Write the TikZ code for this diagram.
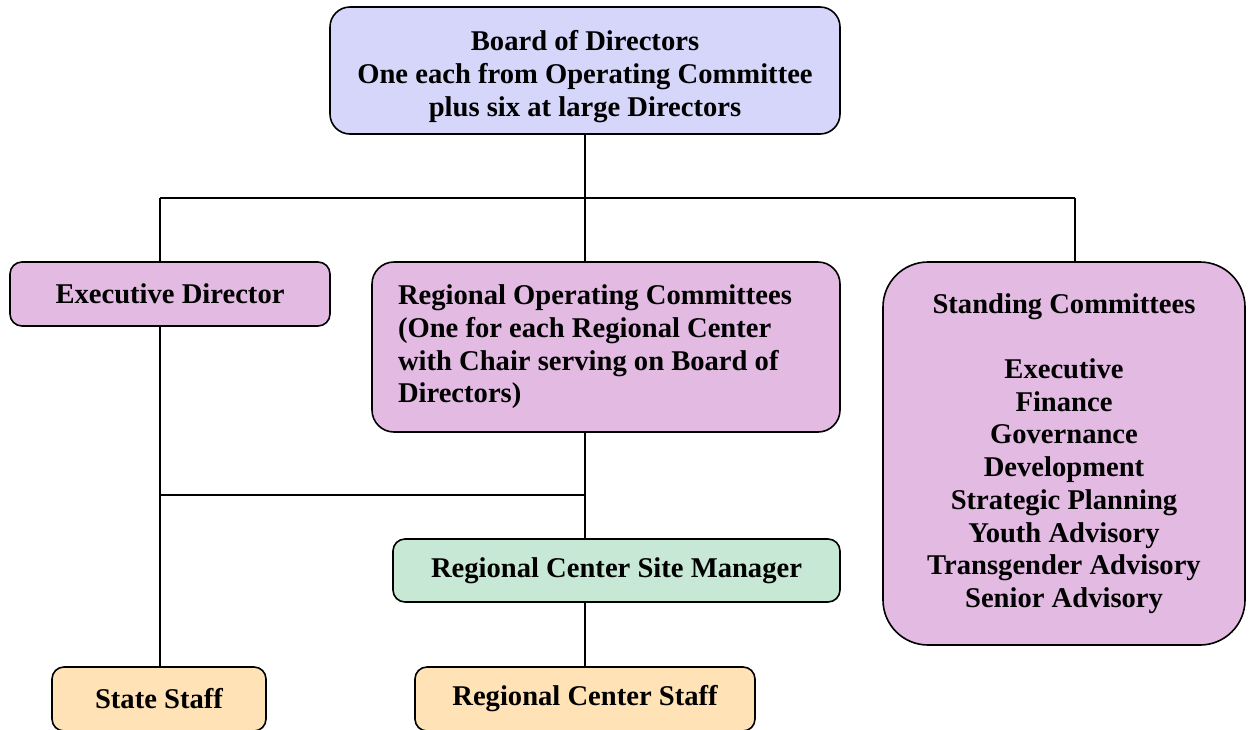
\documentclass[tikz,border=0pt]{standalone}
\usepackage{fontspec}
\setmainfont{Liberation Serif}
\definecolor{bluefill}{RGB}{214,214,250}
\definecolor{purplefill}{RGB}{226,186,226}
\definecolor{greenfill}{RGB}{200,232,214}
\definecolor{orangefill}{RGB}{255,226,182}
\tikzset{
  orgbox/.style={draw=black, line width=1.6pt, inner sep=0pt, align=center,
    font=\fontsize{28.6}{32.7}\selectfont\bfseries},
  conn/.style={draw=black, line width=1.5pt}
}
\begin{document}
\begin{tikzpicture}[x=1pt,y=-1pt]
\useasboundingbox (0,0) rectangle (1250,729);
\node[orgbox, fill=bluefill, rounded corners=20pt, minimum width=510pt, minimum height=127pt] (board) at (585,70.5)
  {\rule{0pt}{4pt}\\[-4pt]Board of Directors\\One each from Operating Committee\\plus six at large Directors};
\node[orgbox, fill=purplefill, rounded corners=12pt, minimum width=320pt, minimum height=64pt] (exec) at (170,294)
  {Executive Director};
\node[orgbox, fill=purplefill, rounded corners=22pt, minimum width=468pt, minimum height=170pt, align=flush left, text width=416pt] (roc) at (606,347)
  {Regional Operating Committees\\(One for each Regional Center\\with Chair serving on Board of\\Directors)};
\node[orgbox, fill=purplefill, rounded corners=45pt, minimum width=362pt, minimum height=383pt] (stand) at (1064,453.5)
  {Standing Committees\\[32.7pt]Executive\\Finance\\Governance\\Development\\Strategic Planning\\Youth Advisory\\Transgender Advisory\\Senior Advisory};
\node[orgbox, fill=greenfill, rounded corners=12pt, minimum width=447pt, minimum height=63pt] (site) at (616.5,570.5)
  {Regional Center Site Manager};
\node[orgbox, fill=orangefill, rounded corners=12pt, minimum width=214pt, minimum height=64pt] (state) at (159,699)
  {State Staff};
\node[orgbox, fill=orangefill, rounded corners=12pt, minimum width=340pt, minimum height=64pt] (rcs) at (585,699)
  {Regional Center Staff};
\coordinate (jm) at (585,198);
\coordinate (jl) at (160,198);
\coordinate (jr) at (1075,198);
\coordinate (jb) at (160,495);
\coordinate (jc) at (585,495);
\draw[conn] (board.south) -- (jm);
\draw[conn] (jl) -- (jr);
\draw[conn] (jl) -- (jl |- exec.north);
\draw[conn] (jm) -- (jm |- roc.north);
\draw[conn] (jr) -- (jr |- stand.north);
\draw[conn] (jl |- exec.south) -- (jl |- state.north);
\draw[conn] (jm |- roc.south) -- (jm |- site.north);
\draw[conn] (jb) -- (jc);
\draw[conn] (jm |- site.south) -- (jm |- rcs.north);
\end{tikzpicture}
\end{document}
